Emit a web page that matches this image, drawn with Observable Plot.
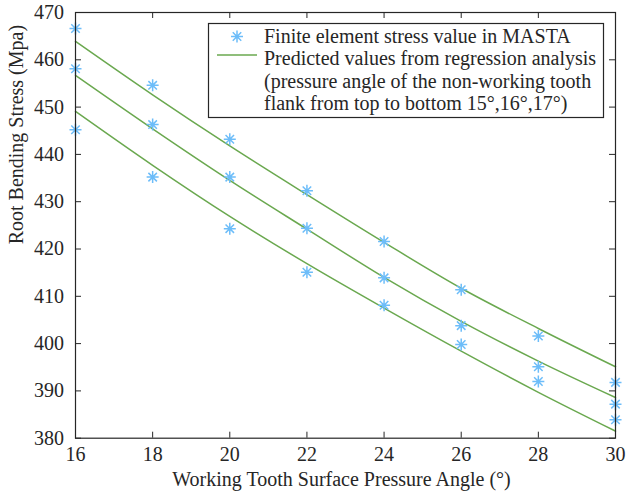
<!DOCTYPE html>
<html>
<head>
<meta charset="utf-8">
<script src="https://cdn.jsdelivr.net/npm/d3@7"></script>
<script src="https://cdn.jsdelivr.net/npm/@observablehq/plot@0.6"></script>
<style>
  html, body { margin: 0; padding: 0; background: #fff; }
</style>
</head>
<body>
<div id="chart"></div>
<script>
// ---- data ----
const angles = [16, 18, 20, 22, 24, 26, 28, 30];
// finite element values (non-working flank pressure angle 15°, 16°, 17°)
const fe15 = [466.6, 454.6, 443.2, 432.3, 421.6, 411.4, 401.6, 391.8];
const fe16 = [458.1, 446.3, 435.2, 424.4, 413.9, 403.8, 395.1, 387.2];
const fe17 = [445.2, 435.2, 424.3, 415.1, 408.1, 399.8, 392.0, 383.9];
// regression predictions
const reg15 = [463.9, 452.6, 441.8, 431.5, 421.4, 411.7, 403.2, 395.1];
const reg16 = [456.7, 445.4, 434.5, 424.2, 414.0, 404.7, 396.3, 388.6];
const reg17 = [449.1, 437.7, 426.9, 416.9, 407.5, 398.4, 389.7, 381.5];
const xTicks = [16, 18, 20, 22, 24, 26, 28, 30];
const yTicks = [380, 390, 400, 410, 420, 430, 440, 450, 460, 470];
const xLabel = "Working Tooth Surface Pressure Angle (°)";
const yLabel = "Root Bending Stress (Mpa)";
const legendLines = [
  "Finite element stress value in MASTA",
  "Predicted values from regression analysis",
  "(pressure angle of the non-working tooth",
  "flank from top to bottom 15°,16°,17°)"
];

const feSeries = [fe15, fe16, fe17];
const regSeries = [reg15, reg16, reg17];
const points = feSeries.flatMap((s, k) => s.map((v, i) => ({x: angles[i], y: v, k})));
const curves = regSeries.flatMap((s, k) => s.map((v, i) => ({x: angles[i], y: v, k})));

// ---- styling ----
const W = 633, H = 499;
const mL = 75, mR = 18, mT = 12, mB = 61.3;
const fw = W - mL - mR, fh = H - mT - mB;
const ink = "#262626";
const blue = "#6dbdf9";
const green = "#6aa84f";
const tick = 6;
const font = "'Liberation Serif', 'Times New Roman', serif";

const asterisk = {
  draw(ctx, size) {
    const r = Math.sqrt(size / Math.PI);
    const d = r * Math.SQRT1_2;
    ctx.moveTo(-r, 0); ctx.lineTo(r, 0);
    ctx.moveTo(0, -r); ctx.lineTo(0, r);
    ctx.moveTo(-d, -d); ctx.lineTo(d, d);
    ctx.moveTo(-d, d); ctx.lineTo(d, -d);
  }
};

function legendMark(index, scales, values, dims) {
  const g = d3.create("svg:g").attr("font-family", font).attr("font-size", 20).attr("text-anchor", "start");
  const x0 = 208.5, y0 = 23.5, x1 = 603.5, y1 = 117.5;
  g.append("rect").attr("x", x0).attr("y", y0).attr("width", x1 - x0).attr("height", y1 - y0)
    .attr("fill", "white").attr("stroke", ink).attr("stroke-width", 1.2);
  const sym = d3.symbol(asterisk, Math.PI * 6 * 6)();
  g.append("path").attr("d", sym).attr("transform", "translate(237,36.5)")
    .attr("fill", "none").attr("stroke", blue).attr("stroke-width", 1.5);
  g.append("line").attr("x1", 217).attr("x2", 257).attr("y1", 55).attr("y2", 55)
    .attr("stroke", green).attr("stroke-width", 1.5);
  const baselines = [43, 65, 87.5, 110];
  legendLines.forEach((t, i) => {
    g.append("text").attr("x", 264).attr("y", baselines[i]).attr("fill", ink).text(t);
  });
  return g.node();
}

const chart = Plot.plot({
  width: W, height: H,
  marginLeft: mL, marginRight: mR, marginTop: mT, marginBottom: mB,
  x: {domain: [16, 30]},
  y: {domain: [380, 470]},
  style: {fontFamily: font, fontSize: "20px", color: ink, background: "white", overflow: "visible"},
  marks: [
    Plot.line(curves, {x: "x", y: "y", z: "k", stroke: green, strokeWidth: 1.5, curve: "monotone-x"}),
    Plot.dot(points, {x: "x", y: "y", symbol: asterisk, r: 6, fill: "none", stroke: blue, strokeWidth: 1.5}),
    Plot.frame({stroke: ink, strokeWidth: 1.2}),
    Plot.tickX(xTicks, {x: d => d, stroke: ink, insetTop: fh - tick}),
    Plot.tickX(xTicks, {x: d => d, stroke: ink, insetBottom: fh - tick}),
    Plot.tickY(yTicks, {y: d => d, stroke: ink, insetRight: fw - tick}),
    Plot.tickY(yTicks, {y: d => d, stroke: ink, insetLeft: fw - tick}),
    Plot.axisX(xTicks, {tickSize: 0, tickPadding: 9, fontSize: 20, fill: ink, label: null}),
    Plot.axisY(yTicks, {tickSize: 0, tickPadding: 11.5, fontSize: 20, fill: ink, label: null}),
    Plot.text([xLabel], {text: d => d, frameAnchor: "bottom", dx: -4, dy: 48, lineAnchor: "bottom", fontSize: 20, fill: ink}),
    Plot.text([yLabel], {text: d => d, frameAnchor: "left", dx: -59, dy: 19, rotate: -90, fontSize: 20, fill: ink}),
    legendMark
  ]
});
document.getElementById("chart").appendChild(chart);
</script>
</body>
</html>
